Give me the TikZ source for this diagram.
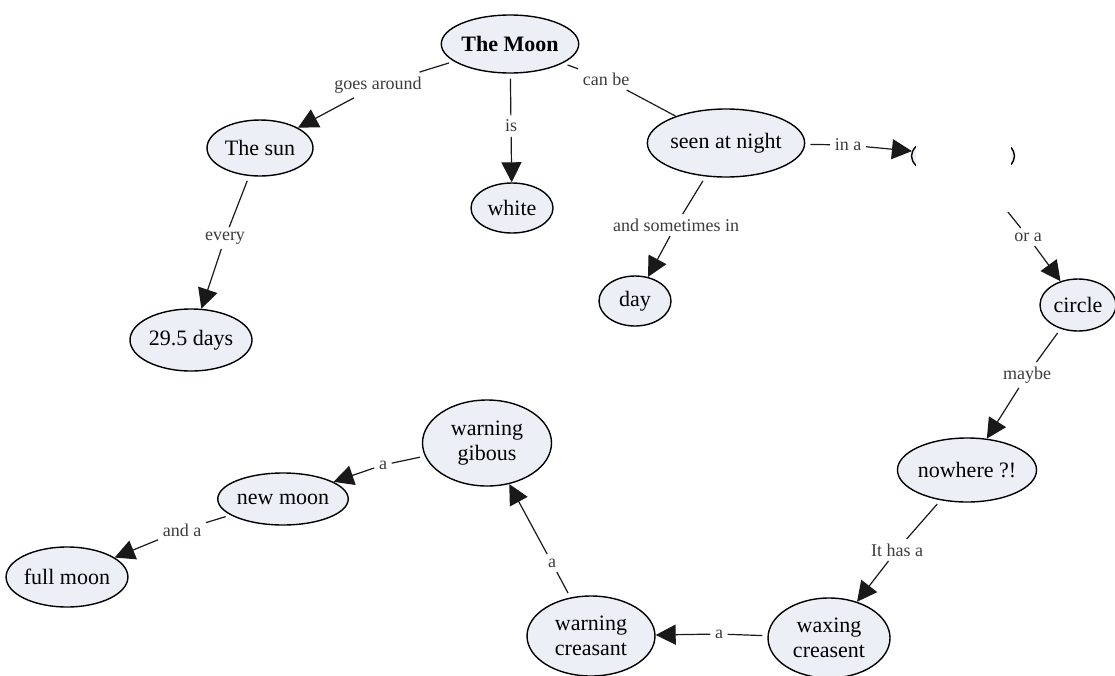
\documentclass[tikz,border=0pt]{standalone}
\usepackage{fontspec}
\setmainfont{Liberation Serif}
\usepackage{tikz}
\usetikzlibrary{shapes.geometric, arrows.meta}

\definecolor{conceptfill}{RGB}{236,240,246}
\definecolor{linkgray}{RGB}{60,60,60}

\begin{document}
\begin{tikzpicture}[
            x=1pt, y=-1pt, % pixel-like units, y pointing down
            concept/.style={ellipse, draw=black, line width=1.4pt, fill=conceptfill, inner sep=0pt, align=center, font=\fontsize{22}{25}\selectfont}, % concept bubbles
            linkword/.style={inner sep=4.5pt, text=linkgray, font=\fontsize{18}{20}\selectfont}, % linking phrases
            link/.style={draw=black!90, line width=1.2pt, shorten <=5pt}, % line into a linking phrase
            arrowlink/.style={draw=black!90, line width=1.2pt, -{Triangle[length=20pt,width=20pt]}} % arrow out of a linking phrase
            ]
        \useasboundingbox (0,0) rectangle (1115,675);

                % Concepts
                \node[concept, minimum width=130pt, minimum height=58pt, font=\fontsize{22}{25}\selectfont\bfseries] (moon) at (510,44) {The Moon};
                \node[concept, minimum width=106pt, minimum height=56pt] (sun) at (260,148) {The sun};
                \node[concept, minimum width=82pt, minimum height=50pt] (white) at (512,208) {white};
                \node[concept, minimum width=150pt, minimum height=68pt] (seen) at (726,143) {seen at night};
                \node[concept, minimum width=122pt, minimum height=62pt] (days) at (191,340) {29.5 days};
                \node[concept, minimum width=72pt, minimum height=50pt] (day) at (635,301) {day};
                \node[concept, minimum width=103pt, minimum height=46pt] (blank) at (963,156) {};
                \node[concept, minimum width=76pt, minimum height=52pt] (circle) at (1078,305) {circle};
                \node[concept, minimum width=134pt, minimum height=64pt] (nowhere) at (967,470) {nowhere ?!};
                \node[concept, minimum width=122pt, minimum height=80pt] (waxing) at (829,638) {waxing\\creasent};
                \node[concept, minimum width=128pt, minimum height=80pt] (warncre) at (591,636) {warning\\creasant};
                \node[concept, minimum width=129pt, minimum height=86pt] (gibous) at (487,443) {warning\\gibous};
                \node[concept, minimum width=121pt, minimum height=52pt] (newmoon) at (283,499) {new moon};
                \node[concept, minimum width=119pt, minimum height=60pt] (fullmoon) at (67,577) {full moon};

                % Linking phrases
                \node[linkword] (goes) at (378,85) {goes around};
                \node[linkword] (is) at (511,126) {is};
                \node[linkword] (canbe) at (606,79) {can be};
                \node[linkword] (every) at (225,238) {every};
                \node[linkword] (ina) at (848,145) {in a};
                \node[linkword] (sometimes) at (676,225) {and sometimes in};
                \node[linkword] (ora) at (1028,237) {or a};
                \node[linkword] (maybe) at (1027,375) {maybe};
                \node[linkword] (hasa) at (897,550) {It has a};
                \node[linkword] (awax) at (719,634) {a};
                \node[linkword] (acre) at (552,563) {a};
                \node[linkword] (agib) at (383,465) {a};
                \node[linkword] (anda) at (182,530) {and a};

                % Connections
                \draw[link] (moon) -- (goes);       \draw[arrowlink] (goes) -- (sun);
                \draw[link] (moon) -- (is);         \draw[arrowlink] (is) -- (white);
                \draw[link] (moon) -- (canbe);      \draw[draw=black!90, line width=1.2pt] (canbe) -- (seen);
                \draw[link] (sun) -- (every);       \draw[arrowlink] (every) -- (days);
                \draw[link] (seen) -- (ina);        \draw[arrowlink] (ina) -- (blank);
                \draw[link] (seen) -- (sometimes);  \draw[arrowlink] (sometimes) -- (day);
                \draw[link] (blank) -- (ora);       \draw[arrowlink] (ora) -- (circle);
                \draw[link] (circle) -- (maybe);    \draw[arrowlink] (maybe) -- (nowhere);
                \draw[link] (nowhere) -- (hasa);    \draw[arrowlink] (hasa) -- (waxing);
                \draw[link] (waxing) -- (awax);     \draw[arrowlink] (awax) -- (warncre);
                \draw[link] (warncre) -- (acre);    \draw[arrowlink] (acre) -- (gibous);
                \draw[link] (gibous) -- (agib);     \draw[arrowlink] (agib) -- (newmoon);
                \draw[link] (newmoon) -- (anda);    \draw[arrowlink] (anda) -- (fullmoon);

                % White patch over the blank concept
                \fill[white] (915.5,110) rectangle (1010.5,212);

            \end{tikzpicture}
\end{document}
